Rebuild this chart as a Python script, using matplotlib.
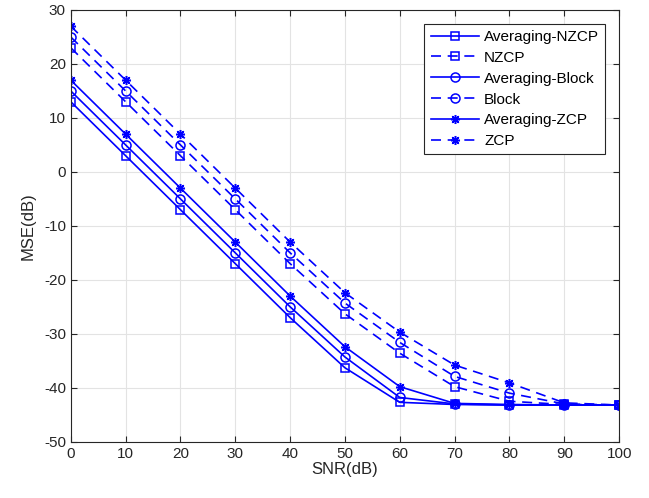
import numpy as np
import matplotlib.pyplot as plt

plt.rcParams['font.family'] = ['Liberation Sans', 'DejaVu Sans']
plt.rcParams['axes.unicode_minus'] = False

snr = [0, 10, 20, 30, 40, 50, 60, 70, 80, 90, 100]
avg_nzcp = [13, 3, -7, -17, -27, -36.3, -42.7, -43.1, -43.2, -43.2, -43.2]
nzcp = [23, 13, 3, -7, -17, -26.3, -33.6, -39.8, -42.5, -43.1, -43.2]
avg_block = [15, 5, -5, -15, -25, -34.3, -41.8, -43.0, -43.2, -43.2, -43.2]
block = [25, 15, 5, -5, -15, -24.3, -31.6, -37.9, -41.0, -43.0, -43.2]
avg_zcp = [17, 7, -3, -13, -23, -32.4, -39.8, -42.9, -43.1, -43.2, -43.2]
zcp = [27, 17, 7, -3, -13, -22.4, -29.7, -35.8, -39.1, -42.8, -43.2]

fig = plt.figure(figsize=(6.49, 4.98), dpi=100)
ax = fig.add_axes([0.109, 0.113, 0.845, 0.867])

blue = (0, 0, 1)
star = (8, 2, 0)
kw = dict(color=blue, lw=1.2, mfc='none', mew=1.1)
dash = dict(ls=(0, (6, 4)))
ax.plot(snr, avg_nzcp, marker='s', ms=5.5, label='Averaging-NZCP', **kw)
ax.plot(snr, nzcp, marker='s', ms=5.5, label='NZCP', **dash, **kw)
ax.plot(snr, avg_block, marker='o', ms=6.5, label='Averaging-Block', **kw)
ax.plot(snr, block, marker='o', ms=6.5, label='Block', **dash, **kw)
ax.plot(snr, avg_zcp, marker=star, ms=6.5, label='Averaging-ZCP', **kw)
ax.plot(snr, zcp, marker=star, ms=6.5, label='ZCP', **dash, **kw)

ax.set_xlim(0, 100)
ax.set_ylim(-50, 30)
ax.set_xticks(np.arange(0, 101, 10))
ax.set_yticks(np.arange(-50, 31, 10))
ax.grid(True, color='#e3e3e3', lw=0.8)
ax.set_axisbelow(True)
ax.tick_params(direction='in', top=True, right=True, labelsize=11, colors='#262626', length=4)
for s in ax.spines.values():
    s.set_color('#262626')
    s.set_linewidth(0.8)
ax.set_xlabel('SNR(dB)', fontsize=12, color='#262626', labelpad=1)
ax.set_ylabel('MSE(dB)', fontsize=12, color='#262626', labelpad=6)

leg = ax.legend(loc='upper right', bbox_to_anchor=(0.9745, 0.968), borderaxespad=0,
                fontsize=11, fancybox=False, edgecolor='#262626', framealpha=1,
                handlelength=3.2, borderpad=0.4, labelspacing=0.45, handletextpad=0.3)
leg.get_frame().set_linewidth(0.8)

fig.savefig('out.png', dpi=100)
